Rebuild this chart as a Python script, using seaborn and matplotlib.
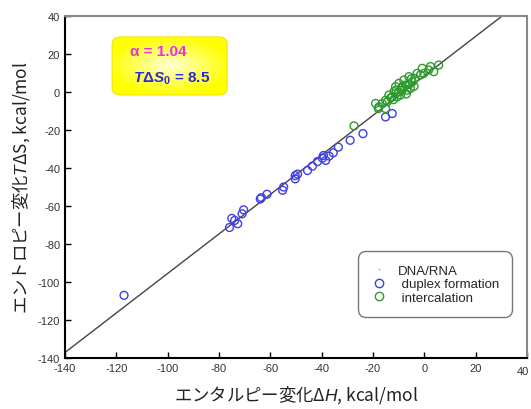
import numpy as np
import pandas as pd
import seaborn as sns
import matplotlib.pyplot as plt
import matplotlib.transforms as mtransforms
from matplotlib.patches import FancyBboxPatch
from matplotlib.lines import Line2D

# duplex formation (DNA/RNA)
duplex_dh = [-117, -75.9, -75.0, -73.9, -72.7, -71.0, -70.4, -63.9, -63.5, -61.3,
             -55.2, -54.8, -50.3, -50.3, -49.4, -45.5, -43.6, -41.6, -39.7, -39.3,
             -38.4, -37.1, -35.5, -33.5, -28.9, -23.9, -15.1, -12.5]
duplex_tds = [-107, -71.3, -66.5, -67.6, -69.3, -64.1, -62.0, -56.3, -55.6, -53.8,
              -51.7, -50.0, -45.7, -44.0, -43.2, -41.3, -39.0, -36.6, -34.8, -33.4,
              -36.0, -33.7, -32.0, -29.0, -25.4, -21.9, -13.1, -11.3]

# intercalation
inter_dh = [-27.4, -19.0, -17.9, -17.7, -16.4, -15.1, -15.1, -14.4, -13.8, -13.0,
            -12.5, -12.0, -11.8, -11.2, -11.0, -10.6, -10.0, -9.9, -9.3, -9.0,
            -8.6, -8.5, -8.0, -7.3, -7.0, -6.7, -6.0, -6.0, -5.4, -5.0,
            -4.7, -4.0, -3.7, -2.8, -1.5, -0.8, -0.2, 1.7, 2.4, 3.7, 5.6]
inter_tds = [-17.8, -6.0, -8.7, -7.8, -6.0, -4.3, -8.7, -5.1, -1.6, -3.0,
             -2.5, -4.0, 0.2, 2.8, 1.0, -2.5, 0.0, 4.6, -1.6, 2.0,
             1.0, 3.0, 6.3, 3.7, -1.0, 1.0, 8.1, 4.0, 1.9, 7.0,
             5.4, 3.0, 7.2, 9.8, 9.0, 12.5, 9.8, 11.6, 13.4, 10.7, 14.2]

alpha = 1.04
tds0 = 8.5
line_x = [-140, (40 - tds0) / alpha]

df_duplex = pd.DataFrame({"dH": duplex_dh, "TdS": duplex_tds})
df_inter = pd.DataFrame({"dH": inter_dh, "TdS": inter_tds})

sns.set_theme(style="ticks")
plt.rcParams["font.family"] = ["Liberation Sans", "Noto Sans CJK JP", "DejaVu Sans"]
plt.rcParams["axes.unicode_minus"] = False
plt.rcParams["mathtext.fontset"] = "custom"
plt.rcParams["mathtext.rm"] = "Liberation Sans"
plt.rcParams["mathtext.it"] = "Liberation Sans:italic"
plt.rcParams["mathtext.bf"] = "Liberation Sans:bold"
plt.rcParams["mathtext.bfit"] = "Liberation Sans:italic:bold"

fig = plt.figure(figsize=(5.31, 4.10), dpi=100)
ax = fig.add_axes([0.1224, 0.1244, 0.870, 0.834])

# regression line
ax.plot(line_x, [alpha * x + tds0 for x in line_x], color="#444444", lw=1.0, zorder=1)

blue = "#3f3fe6"
green = "#2e9a2e"
sns.scatterplot(data=df_duplex, x="dH", y="TdS", ax=ax, marker="o", s=32,
                facecolor="none", edgecolor=blue, linewidth=1.0, zorder=3)
sns.scatterplot(data=df_inter, x="dH", y="TdS", ax=ax, marker="o", s=32,
                facecolor="none", edgecolor=green, linewidth=1.0, zorder=3)

ax.set_xlim(-140, 40)
ax.set_ylim(-140, 40)
ax.set_xticks(range(-140, 41, 20))
ax.set_yticks(range(-140, 41, 20))
ax.tick_params(direction="in", length=4, width=1, labelsize=8, colors="black",
               labelcolor="#333333", top=False, right=False)

# last x tick label sits a little lower and left as in the original
last = ax.get_xticklabels()[-1]
last.set_transform(last.get_transform() +
                   mtransforms.ScaledTranslation(-4 / 100, -3 / 100, fig.dpi_scale_trans))

for side in ["left", "bottom"]:
    ax.spines[side].set_color("black")
    ax.spines[side].set_linewidth(1.5)
for side in ["top", "right"]:
    ax.spines[side].set_color("#888888")
    ax.spines[side].set_linewidth(1.5)

ax.set_xlabel("エンタルピー変化Δ$H$, kcal/mol", fontsize=12.5,
              fontfamily="Noto Sans CJK JP", color="#222222", labelpad=5)
ax.set_ylabel("エントロピー変化$T$ΔS, kcal/mol", fontsize=12.5,
              fontfamily="Noto Sans CJK JP", color="#222222", labelpad=4)

# yellow box with a soft glow
bx0, by0, bw, bh = 0.102, 0.769, 0.249, 0.170
box = FancyBboxPatch((bx0, by0), bw, bh, boxstyle="round,pad=0,rounding_size=0.02",
                     transform=ax.transAxes, facecolor="none", edgecolor="#f2e600",
                     lw=0.8, zorder=4)
ax.add_patch(box)
gy, gx = np.mgrid[-1:1:60j, -1:1:90j]
r = np.clip(np.sqrt((gx * 0.9) ** 2 + (gy * 1.0) ** 2), 0, 1)
glow = np.zeros((60, 90, 4))
glow[..., 0] = 1.0
glow[..., 1] = 1.0
glow[..., 2] = 0.85 * (1 - r) ** 1.1
glow[..., 3] = 1.0
im = ax.imshow(glow, extent=(bx0, bx0 + bw, by0, by0 + bh), transform=ax.transAxes,
               aspect="auto", zorder=3.5, interpolation="bilinear")
im.set_clip_path(box)

ax.text(0.141, 0.898, "α = 1.04", transform=ax.transAxes, fontsize=11,
        fontweight="bold", color="#e830e0", va="center", ha="left", zorder=5)
ax.text(0.147, 0.818, r"$\mathbfit{T}\mathbf{\Delta}\mathbfit{S}_\mathbf{0}$ = 8.5",
        transform=ax.transAxes, fontsize=11, fontweight="bold", color="#2a2ad8",
        va="center", ha="left", zorder=5)

handles = [
    Line2D([], [], ls="none", marker=".", markersize=1, color="#bbbbbb"),
    Line2D([], [], ls="none", marker="o", markersize=6, mfc="none", mec=blue, mew=1.0),
    Line2D([], [], ls="none", marker="o", markersize=6, mfc="none", mec=green, mew=1.0),
]
labels = ["DNA/RNA", " duplex formation", " intercalation"]
leg = ax.legend(handles, labels, loc="lower right", bbox_to_anchor=(0.968, 0.12),
                fontsize=9.5, frameon=True, fancybox=True, handlelength=1.2,
                handletextpad=0.8, borderpad=1.0, labelspacing=0.1,
                borderaxespad=0)
leg.get_frame().set_edgecolor("#555555")
leg.get_frame().set_linewidth(1.0)
leg.get_frame().set_boxstyle("round,pad=0,rounding_size=0.6")

fig.savefig("out.png", dpi=100)
